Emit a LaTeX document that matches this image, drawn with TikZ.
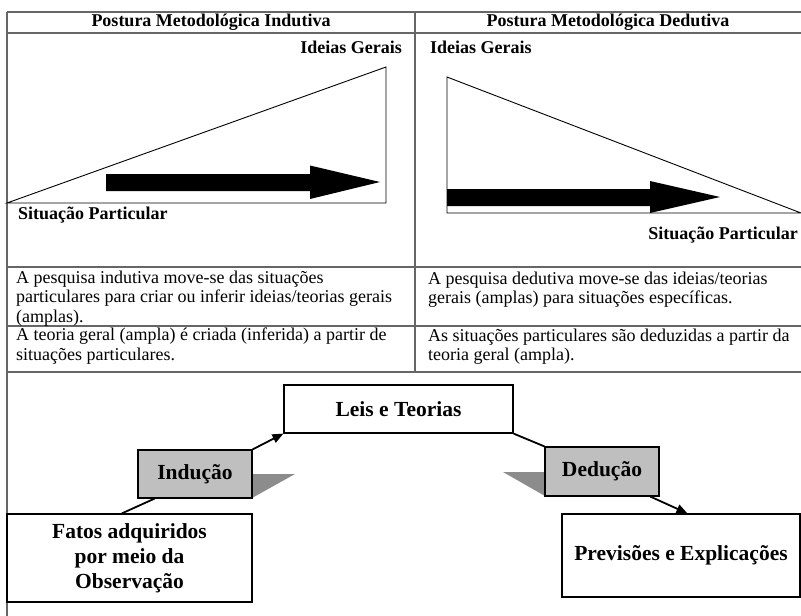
\documentclass[tikz,border=0pt]{standalone}
\usepackage{fontspec}
\setmainfont{Liberation Serif}
\usetikzlibrary{arrows.meta,calc}
\begin{document}
\begin{tikzpicture}[x=1pt,y=-1pt,
  tline/.style={draw=black!60,line width=1.3pt},
  hdr/.style={font=\fontsize{18}{20}\selectfont\bfseries,inner sep=0},
  lbl/.style={font=\fontsize{18}{20}\selectfont\bfseries,inner sep=0},
  body/.style={font=\fontsize{18}{19.5}\selectfont,inner sep=0,align=left,anchor=north west},
  box/.style={draw=black,line width=1.2pt,fill=white,inner sep=0,font=\fontsize{21.5}{25}\selectfont\bfseries,align=center},
  gbox/.style={box,fill=black!25},
  shade/.style={fill=black!45},
  conn/.style={line width=1.8pt},
  tri/.style={draw=black,line width=0.9pt},
  bigarrow/.style={fill=black},
  tip/.style={-{Triangle[length=11pt,width=9pt]}}
]
\useasboundingbox (0,0) rectangle (801,616);
\fill[white] (0,0) rectangle (801,616);
% table grid
\draw[tline] (7,12) -- (801,12);
\draw[tline] (7,33) -- (801,33);
\draw[tline] (7,267) -- (801,267);
\draw[tline] (7,326) -- (801,326);
\draw[tline] (7,372) -- (801,372);
\draw[tline] (7,12) -- (7,616);
\draw[tline] (415,12) -- (415,372);
% headers
\node[hdr] (h1) at (211,22.5) {Postura Metodológica Indutiva};
\node[hdr] (h2) at (608,22.5) {Postura Metodológica Dedutiva};
% left triangle
\draw[tri] (7,203) -- (386,67) -- (386,203) -- cycle;
\fill[bigarrow] (106,174) -- (310,174) -- (310,165.5) -- (380,182) -- (310,199) -- (310,191) -- (106,191) -- cycle;
% right triangle
\draw[tri] (447,77) -- (447,213) -- (801,213) -- cycle;
\fill[bigarrow] (447,189) -- (650,189) -- (650,181) -- (720,197) -- (650,213) -- (650,206) -- (447,206) -- cycle;
% labels
\node[lbl,anchor=east] (ig1) at (402,47) {Ideias Gerais};
\node[lbl,anchor=west] (ig2) at (430,47) {Ideias Gerais};
\node[lbl,anchor=west] (sp1) at (18,215) {Situação Particular};
\node[lbl,anchor=east] (sp2) at (798,235) {Situação Particular};
% body text
\node[body] (t1) at (16,270.5) {A pesquisa indutiva move-se das situações\\particulares para criar ou inferir ideias/teorias gerais\\(amplas).};
\node[body] (t2) at (16,327.7) {A teoria geral (ampla) é criada (inferida) a partir de\\situações particulares.};
\node[body] (t3) at (428,271.5) {A pesquisa dedutiva move-se das ideias/teorias\\gerais (amplas) para situações específicas.};
\node[body] (t4) at (428,328.5) {As situações particulares são deduzidas a partir da\\teoria geral (ampla).};
% shadows
\fill[shade] (252,474) -- (295,474) -- (252,498) -- cycle;
\fill[shade] (503,472) -- (545,472) -- (545,496) -- cycle;
% diagram boxes
\node[box,minimum width=229pt,minimum height=48pt] (leis) at (398.5,409) {Leis e Teorias};
\node[gbox,minimum width=114pt,minimum height=48pt] (indu) at (195,474) {Indução};
\node[box,minimum width=245pt,minimum height=88pt] (fatos) at (129.5,558) {Fatos adquiridos\\por meio da\\Observação};
\node[gbox,minimum width=114pt,minimum height=49pt] (dedu) at (602,471.5) {Dedução};
\node[box,minimum width=238pt,minimum height=83pt] (prev) at (681,555.5) {Previsões e Explicações};
% connectors
\draw[conn] ($(fatos.north west)!0.469!(fatos.north east)$) -- ($(indu.south west)!0.149!(indu.south east)$);
\draw[conn,tip] (indu.north east) -- (leis.south west);
\draw[conn] (leis.south east) -- (dedu.north west);
\draw[conn,tip] ($(dedu.south west)!0.92!(dedu.south east)$) -- ($(prev.north west)!0.527!(prev.north east)$);
\end{tikzpicture}
\end{document}
